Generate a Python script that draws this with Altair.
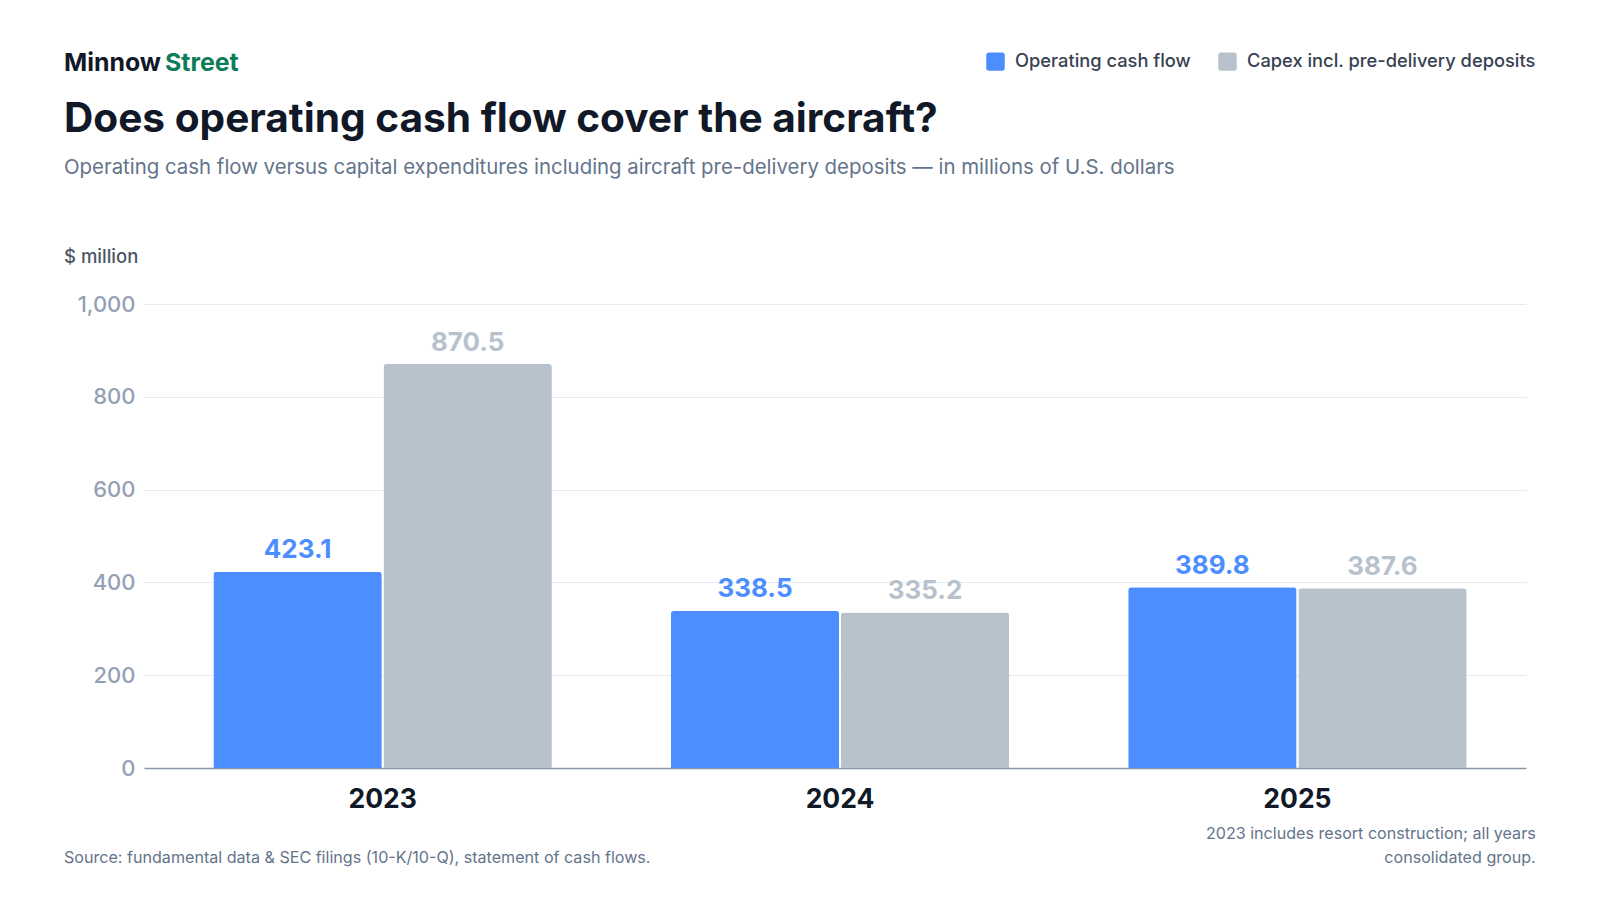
import altair as alt
import pandas as pd

years = ["2023", "2024", "2025"]
series = ["Operating cash flow", "Capex incl. pre-delivery deposits"]
ocf = [423.1, 338.5, 389.8]
capex = [870.5, 335.2, 387.6]
y_ticks = [0, 200, 400, 600, 800, 1000]

colors = ["#4C8DFF", "#B8C2CC"]

rows = []
for i, yr in enumerate(years):
    rows.append({"year": yr, "series": series[0], "value": ocf[i]})
    rows.append({"year": yr, "series": series[1], "value": capex[i]})
df = pd.DataFrame(rows)

FONT = "Inter"
W, H = 1382, 464

rounded = "M-0.7,-1L0.7,-1Q1,-1 1,-0.7L1,0.7Q1,1 0.7,1L-0.7,1Q-1,1 -1,0.7L-1,-0.7Q-1,-1 -0.7,-1Z"

x_enc = alt.X("year:N", sort=years, title=None,
              scale=alt.Scale(paddingInner=0.26, paddingOuter=0.1407, align=0.539),
              axis=alt.Axis(labelAngle=0, labelFontSize=26.5, labelFontWeight="bold",
                            labelColor="#111827", labelFont=FONT, labelPadding=18,
                            ticks=False, domain=True, domainColor="#8C97AA",
                            domainWidth=1.5, grid=False))
y_enc = alt.Y("value:Q", title=None,
              scale=alt.Scale(domain=[0, 1000], nice=False),
              axis=alt.Axis(values=y_ticks, format=",d", labelFontSize=22,
                            labelFontWeight=500,
                            labelColor="#94A0B4", labelFont=FONT, labelPadding=9,
                            ticks=False, domain=False, grid=True,
                            gridColor="#E8EBEF", gridWidth=1))
xo_enc = alt.XOffset("series:N", sort=series,
                     scale=alt.Scale(paddingInner=0.01, paddingOuter=0))
color_enc = alt.Color("series:N", sort=series,
                      scale=alt.Scale(domain=series, range=colors),
                      legend=alt.Legend(orient="none", legendX=842, legendY=-252,
                                        direction="horizontal", title=None,
                                        symbolType=rounded, symbolSize=342,
                                        symbolStrokeWidth=0, labelFontSize=18.3,
                                        labelFont=FONT, labelFontWeight=500,
                                        labelColor="#374151", labelOffset=10,
                                        labelLimit=0, columnPadding=27))

base = alt.Chart(df)
bars = base.mark_bar(cornerRadiusTopLeft=3, cornerRadiusTopRight=3).encode(
    x=x_enc, y=y_enc, xOffset=xo_enc, color=color_enc)

labels = base.mark_text(dy=-13.5, baseline="alphabetic", fontSize=26,
                        fontWeight="bold", font=FONT).encode(
    x=alt.X("year:N", sort=years),
    y=alt.Y("value:Q"),
    xOffset=alt.XOffset("series:N", sort=series),
    text=alt.Text("value:Q", format=".1f"),
    color=alt.Color("series:N", sort=series, legend=None))


def txt(s, x, y, size, color, weight="normal", align="left"):
    return alt.Chart(pd.DataFrame({"t": [s]})).mark_text(
        align=align, baseline="alphabetic", fontSize=size, fontWeight=weight,
        font=FONT, color=color, limit=0
    ).encode(x=alt.value(x), y=alt.value(y), text="t:N")

L = -80
brand1 = txt("Minnow", L, -233.3, 24.9, "#111827", "bold")
brand2 = txt("Street", L + 101, -233.3, 24.9, "#0E7C5A", "bold")
title = txt("Does operating cash flow cover the aircraft?", L, -172.5, 40.6, "#111827", "bold")
subtitle = txt("Operating cash flow versus capital expenditures including aircraft pre-delivery deposits \u2014 in millions of U.S. dollars",
               L, -130, 20.4, "#64748B")
unit = txt("$ million", L, -40.7, 18.5, "#4B5563", 500)
source = txt("Source: fundamental data & SEC filings (10-K/10-Q), statement of cash flows.",
             L, 559.3, 16.1, "#64748B")
note1 = txt("2023 includes resort construction; all years", 1391.7, 535, 16.1, "#64748B", align="right")
note2 = txt("consolidated group.", 1391.7, 559.3, 16.1, "#64748B", align="right")

chart = alt.layer(bars, labels, brand1, brand2, title, subtitle, unit, source, note1, note2).properties(
    width=W, height=H,
    autosize=alt.AutoSizeParams(type="none"),
    padding={"left": 136, "top": 296, "right": 66, "bottom": 124},
    background="white",
).configure_view(stroke=None)

chart.save("out.html", embed_options={"renderer": "svg", "actions": False})
